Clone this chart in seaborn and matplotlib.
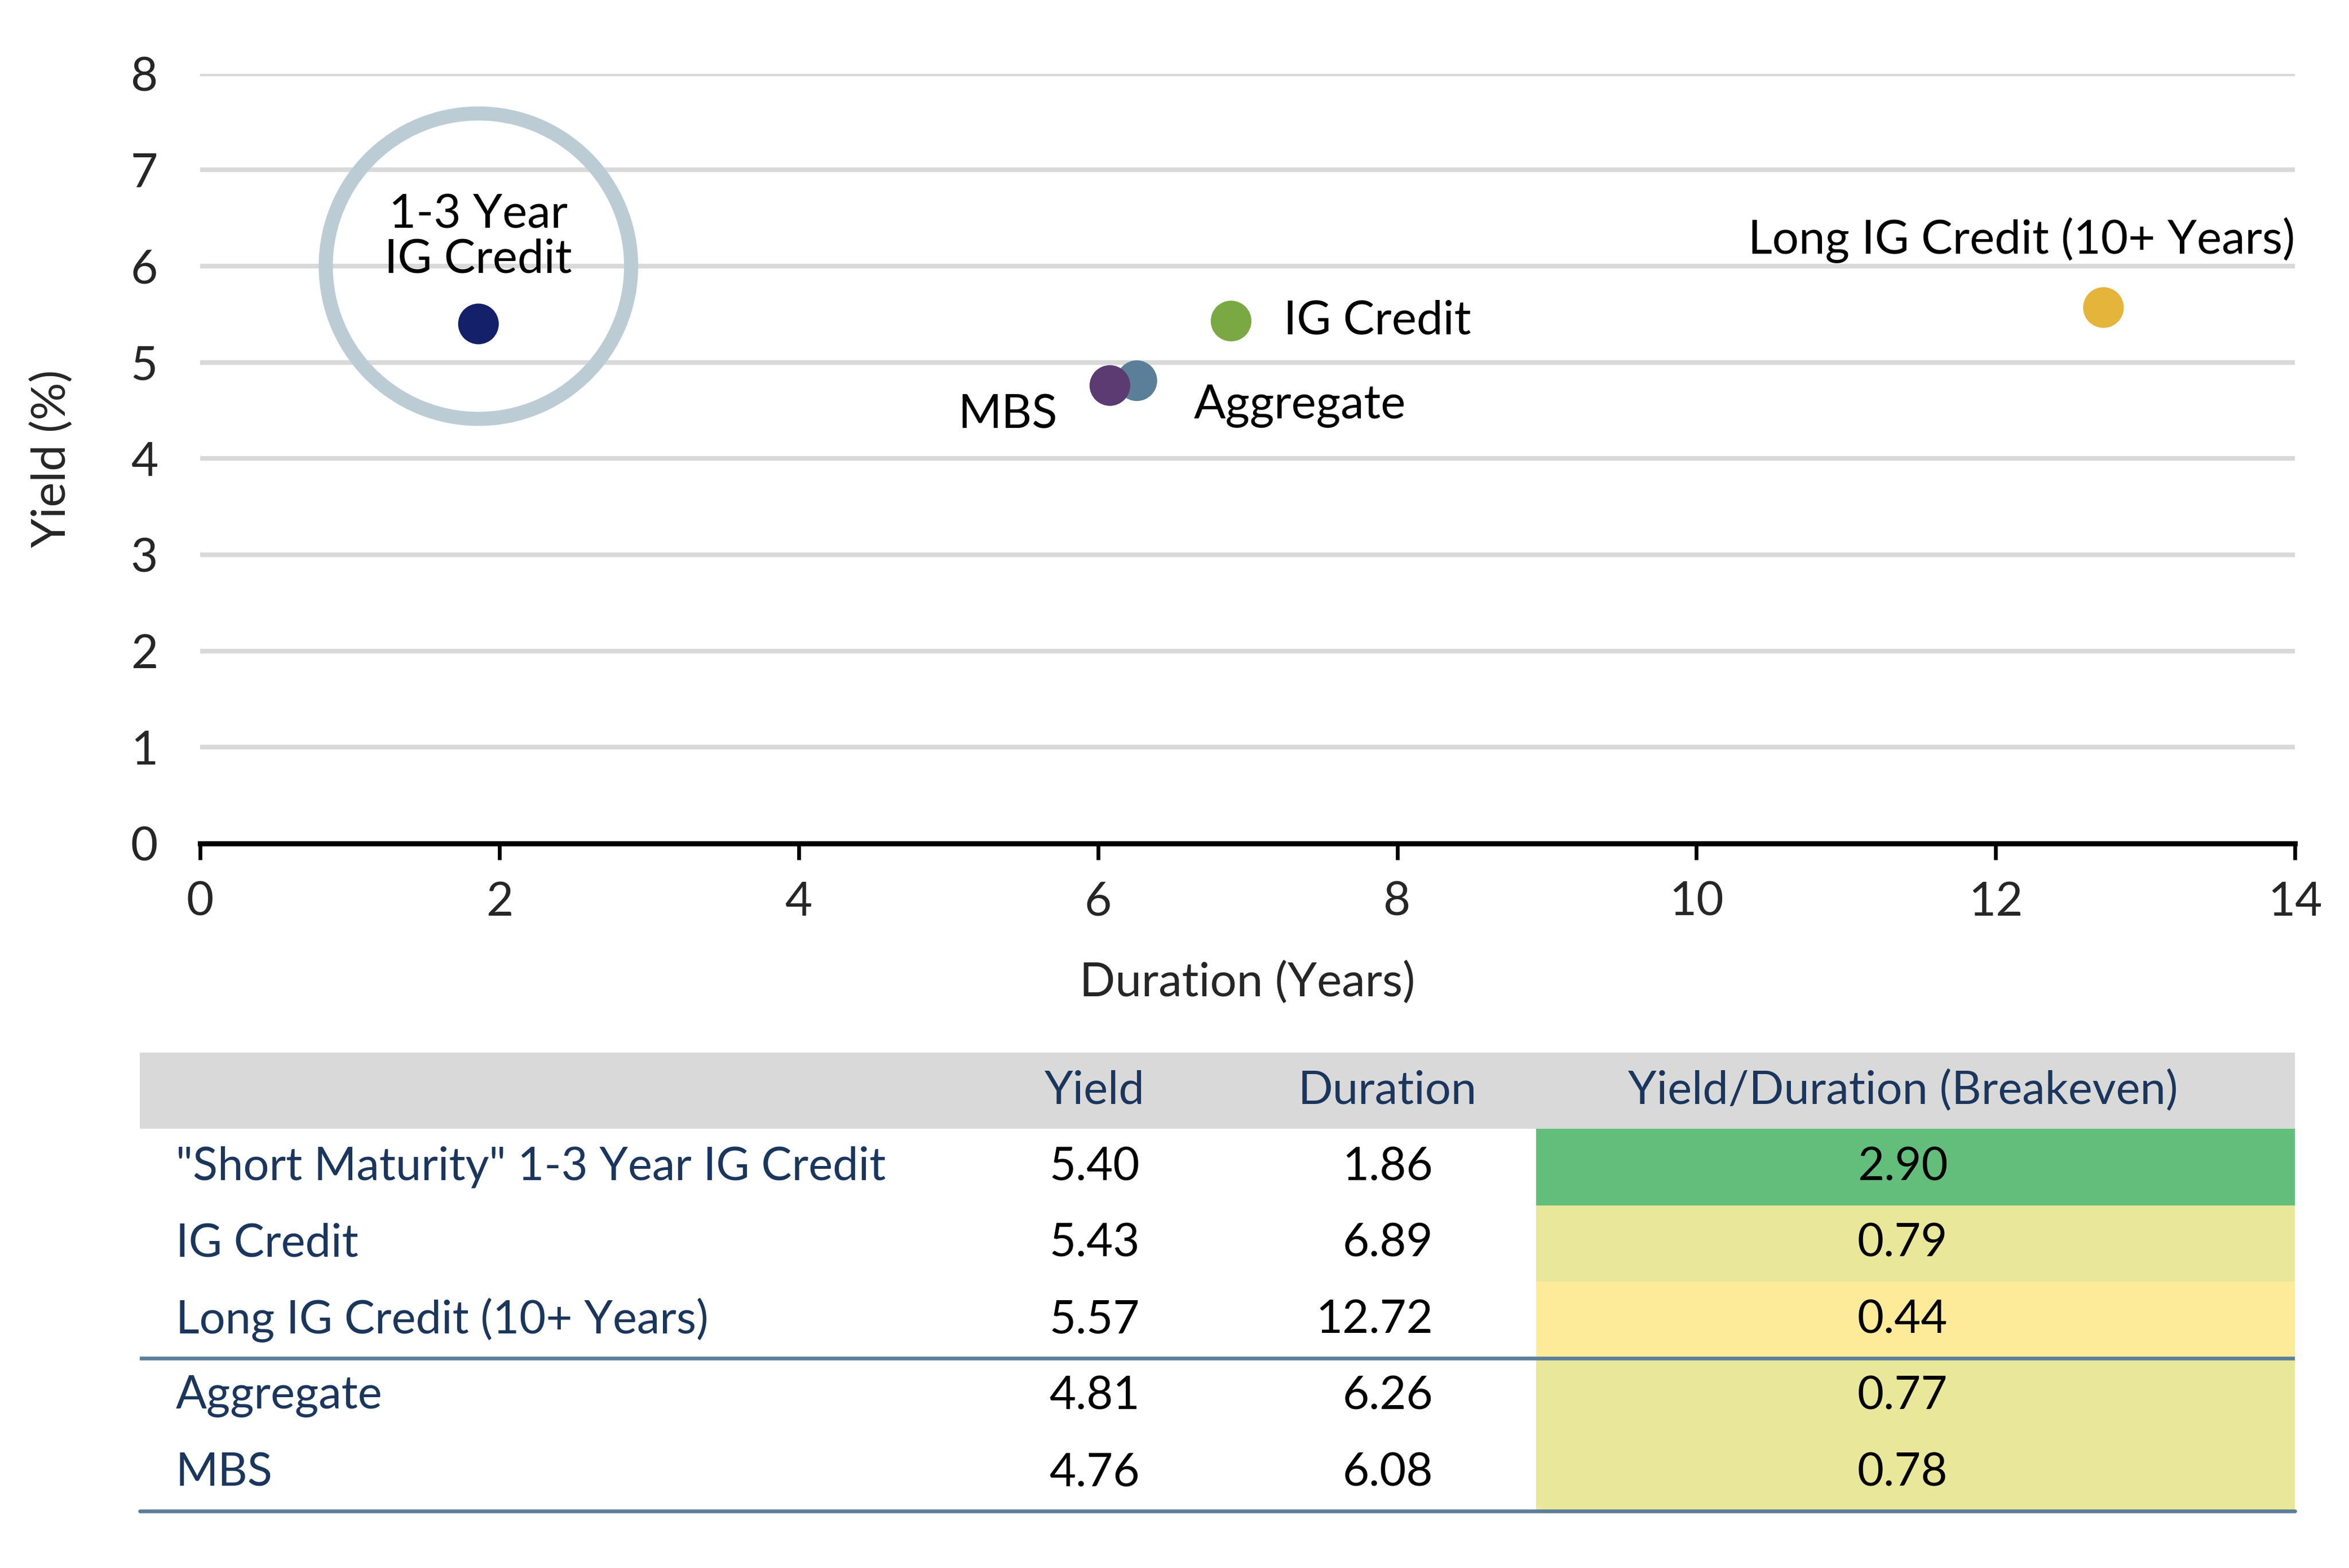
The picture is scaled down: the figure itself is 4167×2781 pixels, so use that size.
import matplotlib
matplotlib.use("Agg")
import matplotlib.pyplot as plt
import seaborn as sns
import pandas as pd

# data
names = ["1-3 Year IG Credit", "IG Credit", "Long IG Credit (10+ Years)", "Aggregate", "MBS"]
durations = [1.86, 6.89, 12.72, 6.26, 6.08]
yields = [5.40, 5.43, 5.57, 4.81, 4.76]
point_colors = ["#14206A", "#7AA843", "#E4B43B", "#5B7F99", "#5B3B71"]

table_labels = ['"Short Maturity" 1-3 Year IG Credit', "IG Credit", "Long IG Credit (10+ Years)", "Aggregate", "MBS"]
table_yield = ["5.40", "5.43", "5.57", "4.81", "4.76"]
table_duration = ["1.86", "6.89", "12.72", "6.26", "6.08"]
table_breakeven = ["2.90", "0.79", "0.44", "0.77", "0.78"]
breakeven_colors = ["#63BE7B", "#E9E79A", "#FEEB9A", "#E9E79A", "#E9E79A"]
header = ["Yield", "Duration", "Yield/Duration (Breakeven)"]

sns.set_style("white")
plt.rcParams["font.family"] = ["Lato", "DejaVu Sans"]

navy = "#1B365D"
line_col = "#5B7F99"
fs = 20
fs_tab = 19.5

fig = plt.figure(figsize=(4167 / 300, 2781 / 300), dpi=300)

# scatter chart
ax = fig.add_axes([0.0852, 0.462, 0.977 - 0.0852, 0.953 - 0.462])
df = pd.DataFrame({"name": names, "duration": durations, "yield": yields})
sns.scatterplot(data=df, x="duration", y="yield", hue="name",
                palette=dict(zip(names, point_colors)), s=300, linewidth=0,
                legend=False, ax=ax, zorder=4)
# highlight ring around the short maturity point
ax.scatter([durations[0]], [6.0], s=130 ** 2, facecolors="none",
           edgecolors="#BCCCD5", linewidths=6, zorder=3, clip_on=False)

ax.set_xlim(0, 14)
ax.set_ylim(0, 8)
ax.set_xticks(range(0, 15, 2))
ax.set_yticks(range(0, 9))
ax.grid(axis="y", color="#D9D9D9", linewidth=2)
ax.grid(axis="x", visible=False)
ax.set_axisbelow(True)
for side in ["top", "right", "left"]:
    ax.spines[side].set_visible(False)
ax.spines["bottom"].set_color("black")
ax.spines["bottom"].set_linewidth(2.2)
ax.spines["bottom"].set_zorder(5)
ax.tick_params(axis="x", length=7, width=1.6, color="black", direction="out", bottom=True, pad=9, labelsize=fs)
ax.tick_params(axis="y", length=0, pad=18, labelsize=fs)
ax.set_xlabel("Duration (Years)", fontsize=fs, labelpad=16)
ax.set_ylabel("Yield (%)", fontsize=fs, labelpad=24)

lab_kw = dict(fontsize=fs, color="black", zorder=6)
ax.text(durations[0], 6.3, "1-3 Year\nIG Credit", ha="center", va="center", linespacing=1.05, **lab_kw)
ax.text(durations[1] + 0.35, yields[1], "IG Credit", ha="left", va="center", **lab_kw)
ax.text(14.0, 6.27, "Long IG Credit (10+ Years)", ha="right", va="center", **lab_kw)
ax.text(durations[3] + 0.38, 4.55, "Aggregate", ha="left", va="center", **lab_kw)
ax.text(durations[4] - 0.35, 4.45, "MBS", ha="right", va="center", **lab_kw)

# table
tb = fig.add_axes([0.0595, 0.0363, 0.977 - 0.0595, 0.3287 - 0.0363])
n = len(table_labels)
tb.set_xlim(0, 1)
tb.set_ylim(n + 1, 0)
tb.axis("off")

tb.axhspan(0, 1, xmin=0, xmax=1, color="#D9D9D9", lw=0)
for i, c in enumerate(breakeven_colors):
    tb.axhspan(i + 1, i + 2, xmin=0.648, xmax=1, color=c, lw=0)

tkw = dict(fontsize=fs_tab, va="center")
tb.text(0.443, 0.5, header[0], ha="center", color=navy, **tkw)
tb.text(0.579, 0.5, header[1], ha="center", color=navy, **tkw)
tb.text(0.818, 0.5, header[2], ha="center", color=navy, **tkw)
for i in range(n):
    y = i + 1.5
    tb.text(0.0167, y, table_labels[i], ha="left", color=navy, **tkw)
    tb.text(0.443, y, table_yield[i], ha="center", color="black", **tkw)
    tb.text(0.600, y, table_duration[i], ha="right", color="black", **tkw)
    tb.text(0.818, y, table_breakeven[i], ha="center", color="black", **tkw)

tb.axhline(4, color=line_col, lw=1.6)
tb.axhline(n + 1, color=line_col, lw=1.6, clip_on=False)

fig.savefig("out.png", dpi=300)
